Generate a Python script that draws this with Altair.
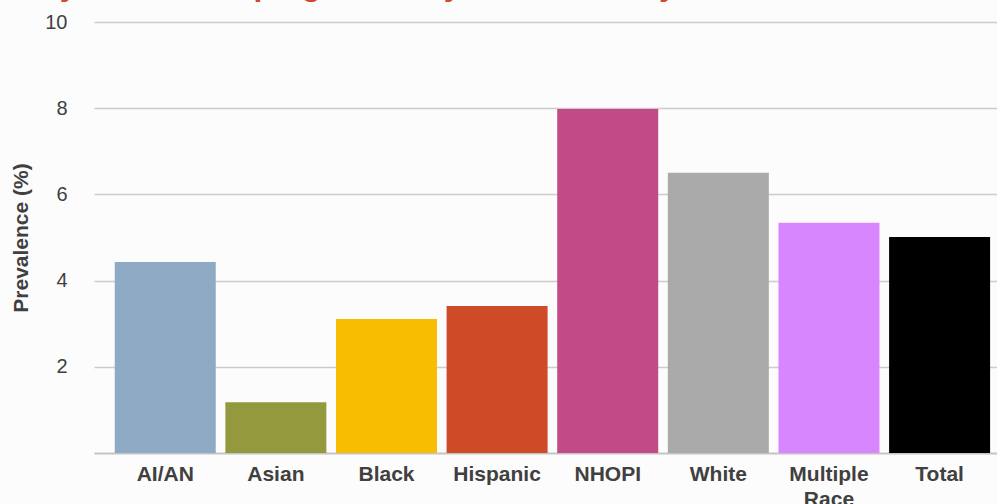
import altair as alt
import pandas as pd

categories = ["AI/AN", "Asian", "Black", "Hispanic", "NHOPI", "White", "Multiple Race", "Total"]
values = [4.43, 1.18, 3.11, 3.41, 7.98, 6.50, 5.34, 5.01]
colors = ["#8FAAC5", "#93993C", "#F8BC00", "#CF4A27", "#C24A87", "#AAAAAA", "#D886FE", "#000000"]
y_ticks = [2, 4, 6, 8, 10]
title_text = "Daily nicotine vaping rates, by race/ethnicity"

df = pd.DataFrame({"group": categories, "value": values})

chart = (
    alt.Chart(df)
    .mark_bar()
    .encode(
        x=alt.X(
            "group:N",
            sort=categories,
            title=None,
            scale=alt.Scale(paddingInner=0.087, paddingOuter=0.125, align=0.75),
            axis=alt.Axis(
                labelAngle=0,
                labelFont="Liberation Sans",
                labelFontSize=21,
                labelFontWeight="bold",
                labelColor="#404040",
                labelPadding=10,
                labelLineHeight=25,
                labelBaseline="top",
                ticks=False,
                domainColor="#c4c4c4",
                domainWidth=2,
                labelExpr="datum.value == 'Multiple Race' ? ['Multiple', 'Race'] : datum.value",
            ),
        ),
        y=alt.Y(
            "value:Q",
            scale=alt.Scale(domain=[0, 10], nice=False),
            axis=alt.Axis(
                values=y_ticks,
                title="Prevalence (%)",
                titleFont="Liberation Sans",
                titleFontSize=21,
                titleFontWeight="bold",
                titleColor="#404040",
                titlePadding=13,
                labelFont="Liberation Sans",
                labelFontSize=20,
                labelColor="#404040",
                labelPadding=27,
                ticks=False,
                domain=False,
                gridColor="#cccccc",
                gridWidth=1.6,
            ),
        ),
        color=alt.Color("group:N", scale=alt.Scale(domain=categories, range=colors), legend=None),
    )
    .properties(
        width=903,
        height=431,
        background="#fcfcfc",
        padding={"left": 94, "top": 22, "right": 0, "bottom": 51},
        autosize=alt.AutoSizeParams(type="none"),
        title=alt.TitleParams(
            text=title_text,
            color="#D24A27",
            font="Liberation Sans",
            fontSize=32,
            fontWeight="bold",
            anchor="start",
            frame="group",
            offset=10,
            dx=-93,
        ),
    )
    .configure_view(stroke=None)
)

chart.save("out.html", embed_options={"renderer": "svg", "actions": False})
